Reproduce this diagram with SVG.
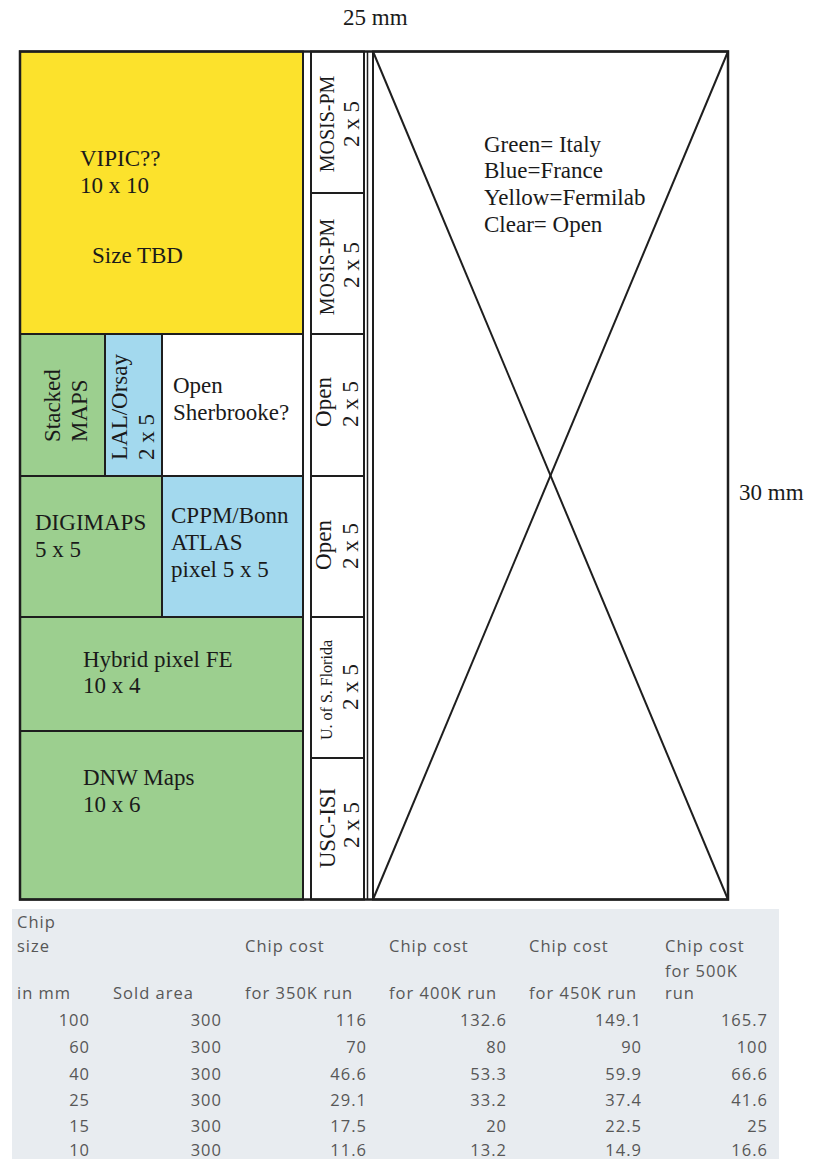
<svg xmlns="http://www.w3.org/2000/svg" width="817" height="1159" viewBox="0 0 817 1159">
<style>
.box{stroke:#1e1e1e;stroke-width:2}
.y{fill:#fce22c}
.g{fill:#9ccf8f}
.b{fill:#a3d9ee}
.w{fill:#ffffff}
.t{font-family:"Liberation Serif","Times New Roman",serif;font-size:23px;fill:#1a1a1a}
.s{font-size:20px}
.xs{font-size:16px}
.ln{stroke:#1e1e1e;stroke-width:2;fill:none}
.tb{font-family:"Open Sans","Liberation Sans",sans-serif;font-size:16.5px;fill:#575757;letter-spacing:1px}
.r{text-anchor:end}
.m{text-anchor:middle}
</style>
<rect width="817" height="1159" fill="#ffffff"/>
<text class="t" x="343" y="25">25 mm</text>
<text class="t" x="739" y="500">30 mm</text>

<g id="vipic"><rect class="box y" x="20" y="51.5" width="283" height="282.5"/>
<text class="t" x="80" y="166">VIPIC??</text><text class="t" x="80" y="193">10 x 10</text>
<text class="t" x="92" y="263">Size TBD</text></g>

<g id="stacked"><rect class="box g" x="20" y="334" width="85" height="142"/>
<text class="t" transform="translate(60,442) rotate(-90)">Stacked</text>
<text class="t" transform="translate(87,442) rotate(-90)">MAPS</text></g>

<g id="lal"><rect class="box b" x="105" y="334" width="57" height="142"/>
<text class="t" transform="translate(127,460) rotate(-90)">LAL/Orsay</text>
<text class="t" transform="translate(154,460) rotate(-90)">2 x 5</text></g>

<g id="sherbrooke"><rect class="box w" x="162" y="334" width="141" height="142"/>
<text class="t" x="173" y="393">Open</text><text class="t" x="173" y="420">Sherbrooke?</text></g>

<g id="digimaps"><rect class="box g" x="20" y="476" width="142" height="141"/>
<text class="t" x="35" y="530">DIGIMAPS</text><text class="t" x="35" y="557">5 x 5</text></g>

<g id="cppm"><rect class="box b" x="162" y="476" width="141" height="141"/>
<text class="t" x="171" y="523">CPPM/Bonn</text><text class="t" x="171" y="550">ATLAS</text><text class="t" x="171" y="577">pixel 5 x 5</text></g>

<g id="hybrid"><rect class="box g" x="20" y="617" width="283" height="114"/>
<text class="t" x="83" y="667">Hybrid pixel FE</text><text class="t" x="83" y="693">10 x 4</text></g>

<g id="dnw"><rect class="box g" x="20" y="731" width="283" height="168.5"/>
<text class="t" x="83" y="785">DNW Maps</text><text class="t" x="83" y="812">10 x 6</text></g>

<g id="mosis1"><rect class="box w" x="311" y="51.5" width="53" height="141.5"/>
<text class="t s m" transform="translate(334,124) rotate(-90)">MOSIS-PM</text>
<text class="t m" transform="translate(359,124) rotate(-90)">2 x 5</text></g>

<g id="mosis2"><rect class="box w" x="311" y="193" width="53" height="141"/>
<text class="t s m" transform="translate(334,267) rotate(-90)">MOSIS-PM</text>
<text class="t m" transform="translate(359,265) rotate(-90)">2 x 5</text></g>

<g id="open1"><rect class="box w" x="311" y="334" width="53" height="142"/>
<text class="t m" transform="translate(331,402) rotate(-90)">Open</text>
<text class="t m" transform="translate(358,404) rotate(-90)">2 x 5</text></g>

<g id="open2"><rect class="box w" x="311" y="476" width="53" height="141"/>
<text class="t m" transform="translate(331,545) rotate(-90)">Open</text>
<text class="t m" transform="translate(358,546) rotate(-90)">2 x 5</text></g>

<g id="usf"><rect class="box w" x="311" y="617" width="53" height="141"/>
<text class="t xs m" transform="translate(332,690) rotate(-90)">U. of S. Florida</text>
<text class="t m" transform="translate(358,687) rotate(-90)">2 x 5</text></g>

<g id="usc"><rect class="box w" x="311" y="758" width="53" height="141.5"/>
<text class="t m" transform="translate(335,828) rotate(-90)">USC-ISI</text>
<text class="t m" transform="translate(359,825) rotate(-90)">2 x 5</text></g>

<g id="open-area"><rect class="box w" x="373" y="51.5" width="355" height="848"/>
<text class="t" x="484" y="152">Green= Italy</text>
<text class="t" x="484" y="178">Blue=France</text>
<text class="t" x="484" y="205">Yellow=Fermilab</text>
<text class="t" x="484" y="232">Clear= Open</text></g>

<g id="connectors">
<line class="ln" x1="373" y1="51.5" x2="728" y2="899.5"/>
<line class="ln" x1="728" y1="51.5" x2="373" y2="899.5"/>
<line class="ln" x1="367.5" y1="51.5" x2="367.5" y2="899.5" style="stroke-width:1.5"/>
<rect class="ln" x="20" y="51.5" width="708" height="848" style="stroke-width:2.5"/>
</g>

<g id="table">
<rect x="12" y="909" width="767" height="250" fill="#e8ecf0"/>
<text class="tb" x="17" y="928">Chip</text>
<text class="tb" x="17" y="952">size</text>
<text class="tb" x="245" y="952">Chip cost</text>
<text class="tb" x="389" y="952">Chip cost</text>
<text class="tb" x="529" y="952">Chip cost</text>
<text class="tb" x="665" y="952">Chip cost</text>
<text class="tb" x="665" y="977">for 500K</text>
<text class="tb" x="17" y="999">in mm</text>
<text class="tb" x="113" y="999">Sold area</text>
<text class="tb" x="245" y="999">for 350K run</text>
<text class="tb" x="389" y="999">for 400K run</text>
<text class="tb" x="529" y="999">for 450K run</text>
<text class="tb" x="665" y="999">run</text>
<g class="tb r">
<text x="90" y="1026">100</text><text x="222" y="1026">300</text><text x="367" y="1026">116</text><text x="507" y="1026">132.6</text><text x="642" y="1026">149.1</text><text x="768" y="1026">165.7</text>
<text x="90" y="1053">60</text><text x="222" y="1053">300</text><text x="367" y="1053">70</text><text x="507" y="1053">80</text><text x="642" y="1053">90</text><text x="768" y="1053">100</text>
<text x="90" y="1079.5">40</text><text x="222" y="1079.5">300</text><text x="367" y="1079.5">46.6</text><text x="507" y="1079.5">53.3</text><text x="642" y="1079.5">59.9</text><text x="768" y="1079.5">66.6</text>
<text x="90" y="1106">25</text><text x="222" y="1106">300</text><text x="367" y="1106">29.1</text><text x="507" y="1106">33.2</text><text x="642" y="1106">37.4</text><text x="768" y="1106">41.6</text>
<text x="90" y="1132">15</text><text x="222" y="1132">300</text><text x="367" y="1132">17.5</text><text x="507" y="1132">20</text><text x="642" y="1132">22.5</text><text x="768" y="1132">25</text>
<text x="90" y="1156">10</text><text x="222" y="1156">300</text><text x="367" y="1156">11.6</text><text x="507" y="1156">13.2</text><text x="642" y="1156">14.9</text><text x="768" y="1156">16.6</text>
</g>
</g>
</svg>
